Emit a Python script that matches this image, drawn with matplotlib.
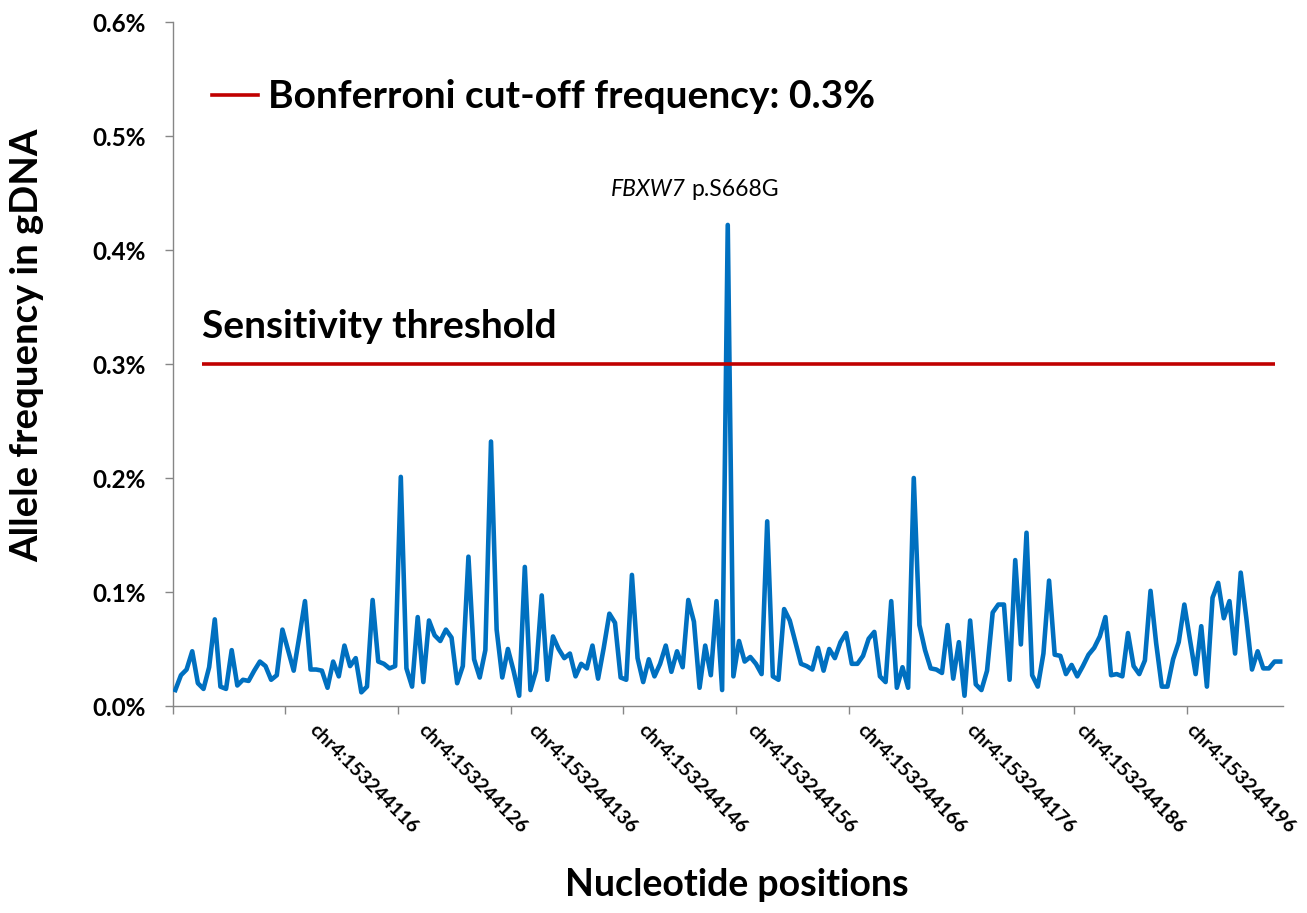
import matplotlib
matplotlib.use("Agg")
import matplotlib.pyplot as plt
import matplotlib.transforms as mtransforms
from matplotlib.lines import Line2D
from matplotlib.ticker import FixedLocator, FuncFormatter

# ---------------- data (allele frequency in %, one value per position/allele) -------------
allele_freq_pct = [
    0.014, 0.027, 0.032, 0.048, 0.020, 0.015, 0.034, 0.076, 0.017, 0.015,
    0.049, 0.018, 0.023, 0.022, 0.031, 0.039, 0.035, 0.023, 0.027, 0.067,
    0.049, 0.031, 0.061, 0.092, 0.032, 0.032, 0.031, 0.016, 0.039, 0.026,
    0.053, 0.035, 0.042, 0.012, 0.017, 0.093, 0.039, 0.037, 0.033, 0.035,
    0.201, 0.033, 0.017, 0.078, 0.021, 0.075, 0.062, 0.057, 0.067, 0.060,
    0.020, 0.035, 0.131, 0.041, 0.025, 0.049, 0.232, 0.067, 0.025, 0.050,
    0.031, 0.009, 0.122, 0.014, 0.031, 0.097, 0.023, 0.061, 0.050, 0.042,
    0.046, 0.026, 0.037, 0.033, 0.053, 0.024, 0.051, 0.081, 0.073, 0.025,
    0.023, 0.115, 0.042, 0.021, 0.041, 0.026, 0.037, 0.053, 0.030, 0.048,
    0.034, 0.093, 0.074, 0.016, 0.053, 0.027, 0.092, 0.014, 0.422, 0.026,
    0.057, 0.039, 0.043, 0.037, 0.028, 0.162, 0.026, 0.023, 0.085, 0.075,
    0.056, 0.037, 0.035, 0.032, 0.051, 0.031, 0.050, 0.042, 0.056, 0.064,
    0.037, 0.037, 0.044, 0.059, 0.065, 0.026, 0.021, 0.092, 0.016, 0.034,
    0.016, 0.200, 0.071, 0.049, 0.033, 0.032, 0.029, 0.071, 0.024, 0.056,
    0.009, 0.075, 0.019, 0.014, 0.031, 0.082, 0.089, 0.089, 0.023, 0.128,
    0.054, 0.152, 0.027, 0.017, 0.046, 0.110, 0.045, 0.044, 0.028, 0.036,
    0.026, 0.035, 0.045, 0.051, 0.061, 0.078, 0.027, 0.028, 0.026, 0.064,
    0.035, 0.028, 0.040, 0.101, 0.055, 0.017, 0.017, 0.041, 0.056, 0.089,
    0.058, 0.028, 0.070, 0.017, 0.095, 0.108, 0.077, 0.092, 0.046, 0.117,
    0.077, 0.032, 0.048, 0.033, 0.033, 0.039, 0.039,
]
positions = list(range(len(allele_freq_pct)))

tick_every = 20
tick_labels = [
    "", "chr4:153244116", "chr4:153244126", "chr4:153244136", "chr4:153244146",
    "chr4:153244156", "chr4:153244166", "chr4:153244176", "chr4:153244186",
    "chr4:153244196",
]
y_ticks = [0.0, 0.1, 0.2, 0.3, 0.4, 0.5, 0.6]

threshold_pct = 0.3
threshold_label = "Bonferroni cut-off frequency: 0.3%"
threshold_text = "Sensitivity threshold"
peak_index = 98
peak_gene = "FBXW7"
peak_change = "p.S668G"

# ---------------- styling --------------------------------------------------------------
plt.rcParams["font.family"] = ["Lato", "DejaVu Sans"]
BLUE = "#0070C0"
RED = "#C00000"
GRAY = "#868686"

W, H = 1307, 913
fig = plt.figure(figsize=(W / 100, H / 100), dpi=100)
left_px, right_px, bottom_px, top_px = 172.5, 1283, 706, 22
ax = fig.add_axes([left_px / W, 1 - bottom_px / H,
                   (right_px - left_px) / W, (bottom_px - top_px) / H])

ax.plot(positions, allele_freq_pct, color=BLUE, lw=3.3, solid_joinstyle="round",
        zorder=3)

n = len(allele_freq_pct)
ax.set_xlim(-0.5, n - 0.5)
ax.set_ylim(0, 0.6)

# threshold line (drawn like a shape, not across full width)
ax.hlines(threshold_pct, 4.8, 195.1, color=RED, lw=2.6, zorder=4,
          label=threshold_label)
ax.text(4.8, 0.3228, threshold_text, fontsize=28, fontweight="bold",
        ha="left", va="baseline", color="black")

# annotation of the peak
off_italic = mtransforms.offset_copy(ax.transData, fig=fig, x=-42 * 0.72, y=35 * 0.72,
                                     units="points")
off_norm = mtransforms.offset_copy(ax.transData, fig=fig, x=-36 * 0.72, y=35 * 0.72,
                                   units="points")
ax.text(peak_index, allele_freq_pct[peak_index], peak_gene, transform=off_italic,
        fontsize=16.5, fontstyle="italic", ha="right", va="center")
ax.text(peak_index, allele_freq_pct[peak_index], peak_change, transform=off_norm,
        fontsize=16.5, ha="left", va="center")

# spines
for s in ("top", "right"):
    ax.spines[s].set_visible(False)
for s in ("left", "bottom"):
    ax.spines[s].set_color(GRAY)
    ax.spines[s].set_linewidth(1.0)

# y axis
ax.yaxis.set_major_locator(FixedLocator(y_ticks))
ax.yaxis.set_major_formatter(FuncFormatter(lambda v, p: f"{v:.1f}%"))
ax.tick_params(axis="y", direction="out", length=6, width=1.0, color=GRAY,
               labelsize=17.5, pad=13)
for lab in ax.get_yticklabels():
    lab.set_fontweight("bold")

# x axis: ticks at category boundaries every 20 points
xt = [-0.5 + tick_every * k for k in range(len(tick_labels))]
ax.set_xticks(xt)
ax.set_xticklabels([])
ax.tick_params(axis="x", direction="out", length=6, width=1.0, color=GRAY)
k = 0
for lab in tick_labels:
    if lab:
        sx = 312 + 109.6 * k
        fig.text(sx / W, 1 - 727 / H, lab, rotation=-45, rotation_mode="anchor",
                 ha="left", va="center", fontsize=14, fontweight="bold")
        k += 1

# legend
handle = Line2D([0], [0], color=RED, lw=2.6)
fontsize_leg = 28
leg = ax.legend([handle], [threshold_label], loc="center left",
                bbox_to_anchor=(212 / W, 1 - 97 / H), bbox_transform=fig.transFigure,
                frameon=False, borderpad=0, borderaxespad=0,
                handlelength=46 / (fontsize_leg * 100 / 72),
                handletextpad=10 / (fontsize_leg * 100 / 72),
                prop={"weight": "bold", "size": fontsize_leg})

# axis labels
fig.text(27 / W, 1 - 345 / H, "Allele frequency in gDNA", rotation=90,
         ha="center", va="center", fontsize=27.5, fontweight="bold")
fig.text(737 / W, 1 - 885 / H, "Nucleotide positions",
         ha="center", va="center", fontsize=27, fontweight="bold")

fig.savefig("out.png", dpi=100, facecolor="white")
